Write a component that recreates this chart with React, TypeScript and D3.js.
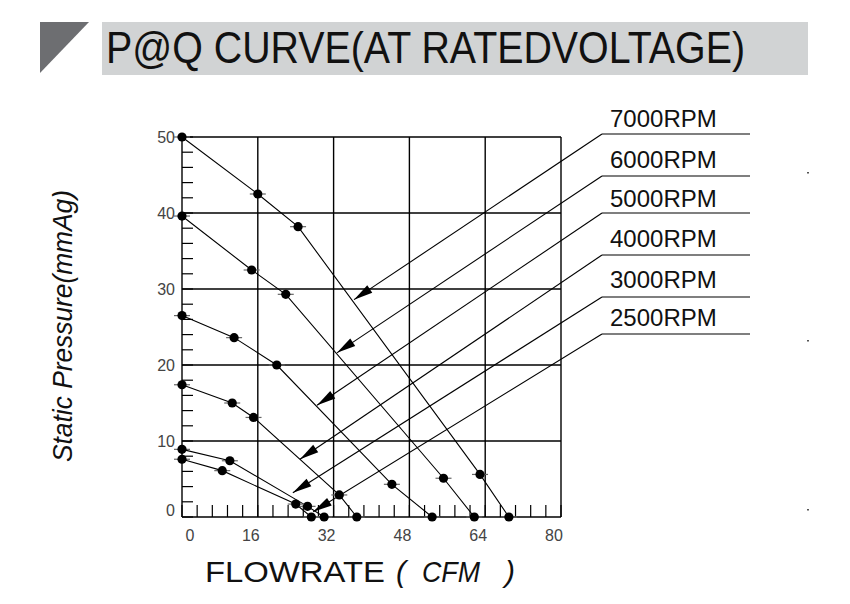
import React from "react";
import * as d3 from "d3";

// ---- data ----
const speeds = ["7000RPM", "6000RPM", "5000RPM", "4000RPM", "3000RPM", "2500RPM"];
const flow7000 = [0, 16, 24.5, 62.9, 69.0];
const press7000 = [50, 42.5, 38.2, 5.6, 0];
const flow6000 = [0, 14.7, 21.9, 55.2, 61.7];
const press6000 = [39.6, 32.5, 29.3, 5.1, 0];
const flow5000 = [0, 11.0, 20.0, 44.3, 52.8];
const press5000 = [26.5, 23.6, 20.0, 4.3, 0];
const flow4000 = [0, 10.6, 15.1, 33.2, 36.9];
const press4000 = [17.4, 15.0, 13.1, 2.9, 0];
const flow3000 = [0, 10.1, 26.5, 30.0];
const press3000 = [8.9, 7.4, 1.4, 0];
const flow2500 = [0, 8.5, 24.0, 27.3];
const press2500 = [7.6, 6.1, 1.7, 0];
// arrow tips (data units) for each speed label
const arrowFlow = [36.3, 32.7, 28.5, 24.9, 23.4, 27.7];
const arrowPress = [28.6, 21.6, 14.7, 7.6, 3.2, 0.7];

const xTicks = [0, 16, 32, 48, 64, 80];
const yTicks = [0, 10, 20, 30, 40, 50];

const title = "P@Q CURVE(AT RATEDVOLTAGE)";
const yTitle = "Static Pressure(mmAg)";

const flows = [flow7000, flow6000, flow5000, flow4000, flow3000, flow2500];
const presses = [press7000, press6000, press5000, press4000, press3000, press2500];

export default function App() {
  const W = 850, H = 604;
  const x = d3.scaleLinear().domain([0, 80]).range([182, 561]);
  const y = d3.scaleLinear().domain([0, 50]).range([517, 137]);
  const line = d3.line<[number, number]>().x(d => x(d[0])).y(d => y(d[1]));

  const minorX = d3.range(0, 80.001, 3.2);
  const minorY = d3.range(0, 50.001, 2);

  const labelBaselines = [127, 168, 207, 247, 288, 326];
  const underlineY = [134, 176, 213, 255, 297, 334];

  const arrowHead = (x1: number, y1: number, tx: number, ty: number) => {
    const ang = Math.atan2(ty - y1, tx - x1);
    const len = 19, half = 4.5;
    const bx = tx - len * Math.cos(ang), by = ty - len * Math.sin(ang);
    const px = -Math.sin(ang) * half, py = Math.cos(ang) * half;
    return `M${tx},${ty}L${bx + px},${by + py}L${bx - px},${by - py}Z`;
  };

  return (
    <svg width={W} height={H} style={{ position: "absolute", left: 0, top: 0, background: "#fff" }}
      fontFamily="'Liberation Sans', Arial, sans-serif">
      <rect x={0} y={0} width={W} height={H} fill="#fff" />
      {/* title */}
      <polygon points="40,22 89,22 40,73" fill="#6d6e71" />
      <rect x={102} y={22} width={706} height={53} fill="#d1d3d4" />
      <text x={106} y={63} fontSize={44} fill="#111" textLength={639} lengthAdjust="spacingAndGlyphs">{title}</text>

      {/* minor ticks */}
      {minorY.map((v, i) => (
        <line key={"my" + i} x1={x(0)} x2={x(0) + 11} y1={y(v)} y2={y(v)} stroke="#000" strokeWidth={1.2} />
      ))}
      {minorX.map((v, i) => (
        <line key={"mx" + i} x1={x(v)} x2={x(v)} y1={y(0)} y2={y(0) - 12} stroke="#000" strokeWidth={1.2} />
      ))}
      {/* grid */}
      {xTicks.map(v => (
        <line key={"gx" + v} x1={x(v)} x2={x(v)} y1={y(0)} y2={y(50)} stroke="#000" strokeWidth={1.4} />
      ))}
      {yTicks.map(v => (
        <line key={"gy" + v} x1={x(0)} x2={x(80)} y1={y(v)} y2={y(v)} stroke="#000" strokeWidth={1.4} />
      ))}
      {/* tick labels */}
      {xTicks.map(v => (
        <text key={"tx" + v} x={Math.max(x(v) - 7, x(0) + 8)} y={y(0) + 24} fontSize={16} fill="#444"
          textAnchor="middle">{v}</text>
      ))}
      {yTicks.map(v => (
        <text key={"ty" + v} x={175} y={Math.min(y(v) + 6, y(0) - 1)} fontSize={16} fill="#444"
          textAnchor="end">{v}</text>
      ))}

      {/* curves */}
      {flows.map((f, i) => (
        <path key={"c" + i} d={line(f.map((v, j) => [v, presses[i][j]]) as [number, number][]) || ""}
          fill="none" stroke="#000" strokeWidth={1.1} />
      ))}
      {flows.map((f, i) => f.map((v, j) => (
        <g key={"m" + i + "-" + j}>
          <line x1={x(v) - 8} x2={x(v) + 8} y1={y(presses[i][j])} y2={y(presses[i][j])} stroke="#666" strokeWidth={1.2} />
          <circle cx={x(v)} cy={y(presses[i][j])} r={4.6} fill="#000" />
        </g>
      )))}

      {/* leaders and labels */}
      {speeds.map((s, i) => {
        const tx = x(arrowFlow[i]), ty = y(arrowPress[i]);
        return (
          <g key={"l" + s}>
            <line x1={602} y1={underlineY[i]} x2={tx} y2={ty} stroke="#000" strokeWidth={1.1} />
            <path d={arrowHead(602, underlineY[i], tx, ty)} fill="#000" />
            <line x1={602} x2={750} y1={underlineY[i]} y2={underlineY[i]} stroke="#000" strokeWidth={1.1} />
            <text x={610} y={labelBaselines[i]} fontSize={24} fill="#111">{s}</text>
          </g>
        );
      })}

      {/* axis titles */}
      <text transform="translate(72,462) rotate(-90)" fontSize={27} fontStyle="italic" fill="#111"
        textLength={272} lengthAdjust="spacingAndGlyphs">{yTitle}</text>
      <text x={205} y={582} fontSize={30} fill="#111" textLength={180} lengthAdjust="spacingAndGlyphs">FLOWRATE</text>
      <text x={396} y={582} fontSize={30} fill="#111" fontStyle="italic">(</text>
      <text x={422} y={582} fontSize={30} fill="#111" fontStyle="italic" textLength={58} lengthAdjust="spacingAndGlyphs">CFM</text>
      <text x={505} y={582} fontSize={30} fill="#111" fontStyle="italic">)</text>

      {/* stray dots */}
      {[172, 340, 509].map(v => (
        <rect key={"d" + v} x={807} y={v} width={2} height={1.5} fill="#555" />
      ))}
    </svg>
  );
}
